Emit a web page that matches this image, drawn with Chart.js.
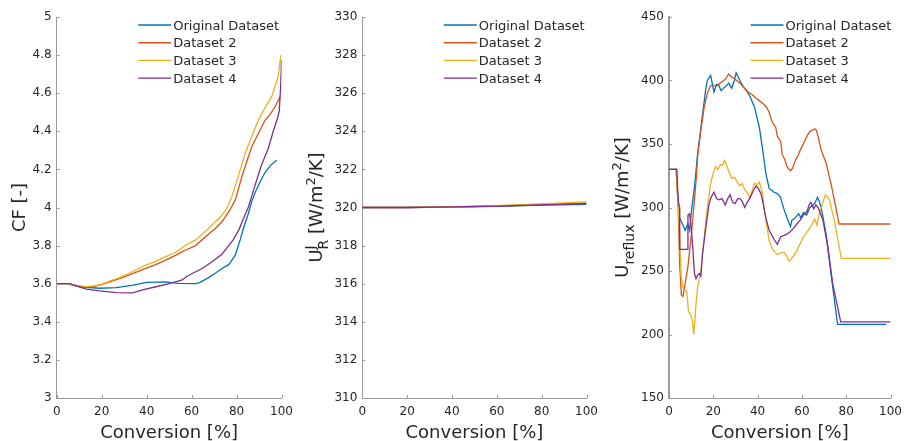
<!DOCTYPE html>
<html>
<head>
<meta charset="utf-8">
<script src="https://cdn.jsdelivr.net/npm/chart.js@4.4.1/dist/chart.umd.min.js"></script>
<style>
  body { margin: 0; background: #fff; }
  #wrap { position: relative; width: 909px; height: 441px; overflow: hidden; }
  .panel { position: absolute; top: 0; height: 441px; }
</style>
</head>
<body>
<div id="wrap">
  <div class="panel" style="left:0;width:300px"><canvas id="cf"></canvas></div>
  <div class="panel" style="left:300px;width:305px"><canvas id="ur"></canvas></div>
  <div class="panel" style="left:605px;width:304px"><canvas id="reflux"></canvas></div>
</div>
<script>
// series names and colours (MATLAB default order)
var names = ["Original Dataset", "Dataset 2", "Dataset 3", "Dataset 4"];
var colors = ["#0072BD", "#D95319", "#EDB120", "#7E2F8E"];

var xTicks = [0, 20, 40, 60, 80, 100];
var cfTicks = [3, 3.2, 3.4, 3.6, 3.8, 4, 4.2, 4.4, 4.6, 4.8, 5];
var urTicks = [310, 312, 314, 316, 318, 320, 322, 324, 326, 328, 330];
var refluxTicks = [150, 200, 250, 300, 350, 400, 450];

// ---- CF [-] ----
var cfOrigX = [0, 5, 10, 19, 26.5, 34, 40, 48.5, 54, 62, 63.5, 67.6, 70.5, 73.5, 76.5, 78, 79.4, 80.5, 81.6, 83.3, 85.3, 86.8, 88.3, 90.5, 92.7, 95, 97.8];
var cfOrigY = [3.6, 3.6, 3.584, 3.576, 3.579, 3.593, 3.607, 3.61, 3.602, 3.6, 3.606, 3.632, 3.655, 3.68, 3.7, 3.725, 3.75, 3.79, 3.83, 3.9, 3.97, 4.035, 4.08, 4.135, 4.185, 4.22, 4.248];
var cf2X = [0, 5, 8.8, 12, 16.2, 20, 23.5, 28, 32.3, 36, 39.6, 44, 48.5, 53, 57.4, 61.8, 66.2, 68.5, 70.6, 73.5, 75.5, 77.2, 79.4, 80.9, 82.3, 84.5, 86.8, 91, 92.7, 95, 97.1, 99.4];
var cf2Y = [3.6, 3.6, 3.588, 3.585, 3.585, 3.595, 3.61, 3.627, 3.646, 3.663, 3.68, 3.7, 3.724, 3.75, 3.777, 3.8, 3.847, 3.87, 3.89, 3.925, 3.96, 3.99, 4.04, 4.1, 4.16, 4.24, 4.32, 4.42, 4.459, 4.49, 4.529, 4.582];
var cf3X = [0, 5, 9, 13, 16.2, 20, 23.5, 28, 32.3, 36, 39.6, 44, 48.5, 53, 57.4, 61.8, 66.2, 70.6, 73.5, 75.7, 77.9, 80.9, 83.8, 86.8, 89.7, 92.5, 95.6, 98.5, 99.7];
var cf3Y = [3.6, 3.6, 3.59, 3.585, 3.588, 3.597, 3.614, 3.632, 3.655, 3.677, 3.698, 3.717, 3.742, 3.765, 3.803, 3.83, 3.875, 3.925, 3.96, 3.996, 4.057, 4.17, 4.284, 4.375, 4.459, 4.52, 4.582, 4.687, 4.8];
var cf4X = [0, 5.6, 8.8, 13.2, 19.1, 26.5, 33.8, 38.2, 44.1, 50, 55.9, 57.4, 60.5, 64.7, 69.1, 73.5, 76.5, 78.5, 80.9, 83, 85.3, 88.3, 91, 94.1, 96.3, 98.5, 99, 99.6, 100];
var cf4Y = [3.6, 3.6, 3.588, 3.572, 3.562, 3.553, 3.552, 3.567, 3.584, 3.6, 3.62, 3.635, 3.655, 3.68, 3.715, 3.755, 3.8, 3.83, 3.88, 3.94, 4.004, 4.12, 4.22, 4.31, 4.4, 4.48, 4.51, 4.634, 4.774];

// ---- U_R^J ----
var urX = [0, 20, 40, 60, 80, 100];
var urOrig = [320, 320, 320.02, 320.06, 320.12, 320.16];
var ur2 = [320, 320, 320.03, 320.08, 320.16, 320.24];
var ur3 = [320, 320.01, 320.04, 320.1, 320.19, 320.3];
var ur4 = [320, 320, 320.03, 320.07, 320.14, 320.2];

// ---- U_reflux ----
var rfOrigX = [0, 3.4, 4, 4.8, 6.3, 7.3, 8.5, 9.3, 10, 10.7, 11.5, 12.9, 14.4, 15.5, 16.5, 17.3, 18.8, 20.3, 21.5, 22.5, 23.5, 24.7, 26, 26.9, 28.3, 29.5, 30.3, 31.2, 32, 33.5, 35, 36.4, 38.6, 40.8, 42.3, 43.7, 45.2, 46.7, 47.4, 48.9, 50.4, 51.1, 52.6, 53.7, 54.8, 55.5, 56.3, 57.5, 58.5, 59.5, 60.7, 62.1, 63.6, 65.1, 66, 67, 67.8, 68.7, 70.9, 73.1, 76.1, 98.1];
var rfOrigY = [330, 330, 305, 292, 286, 282, 287, 282, 295, 305, 316, 342, 363, 378, 392, 400, 404, 391, 397, 396, 392, 394, 396, 398, 394, 400, 406, 403, 400, 395, 392, 388, 379, 363, 345, 327, 315, 313, 312, 311, 308, 303, 295, 290, 285, 290, 291, 293, 295, 292, 296, 294, 300, 302, 304, 308, 305, 300, 279, 248, 208, 208];
var rf2X = [0, 3.2, 4.1, 4.8, 5.6, 6.3, 7, 8.5, 10, 11.5, 12.2, 12.9, 14.4, 15.9, 17.3, 18.8, 20, 21.7, 23.9, 25.5, 26.9, 28, 29.1, 32, 35.7, 37.5, 39.3, 42.3, 44, 45.2, 46, 47, 48.2, 48.9, 50.4, 51.1, 52.2, 53.3, 54.8, 55.8, 57, 58, 59.2, 61.4, 62.5, 63.6, 65, 65.8, 66.5, 67.3, 68.7, 70.9, 73.1, 75.3, 76.8, 100];
var rf2Y = [330, 330, 303, 256, 231, 230, 237, 253, 277, 306, 321, 340, 361, 379, 390, 396, 396, 396, 399, 401, 405, 403, 402, 398, 391, 389, 386, 382, 379, 375, 370, 366, 363, 356, 352, 342, 338, 332, 329, 331, 337, 340, 345, 353, 357, 360, 361, 362, 361, 356, 345, 335, 319, 300, 287, 287];
var rf3X = [0, 3.2, 4.5, 5.5, 6.5, 8, 8.8, 10, 10.6, 11.2, 12.2, 12.9, 14.4, 15.9, 17.3, 18.8, 19.5, 21, 22, 23.2, 24.2, 25.1, 26, 26.9, 28.3, 29.5, 30.5, 32, 33, 34.2, 35.5, 36.4, 37.5, 38.6, 39.8, 40.8, 42.3, 43, 44, 45.2, 46.7, 48.9, 50.4, 51.9, 53, 54.1, 55, 56.3, 57.5, 58.5, 60.7, 62, 63.6, 64.8, 65.8, 66.8, 67.8, 68.7, 70.6, 72.4, 74.6, 76.8, 77.8, 100];
var rf3Y = [330, 330, 290, 245, 236, 234, 218, 215, 210, 200, 224, 237, 250, 277, 300, 319, 324, 332, 330, 334, 333, 337, 333, 329, 323, 324, 321, 317, 319, 314, 311, 308, 313, 319, 318, 320, 311, 298, 287, 274, 267, 263, 264, 265, 262, 258, 259, 262, 265, 269, 277, 280, 284, 288, 291, 286, 295, 300, 310, 306, 290, 269, 260, 260];
var rf4X = [0, 3.5, 4.2, 4.8, 4.85, 8.5, 8.55, 9.3, 10, 10.7, 11.5, 12.2, 13, 13.7, 14.4, 15.1, 16.6, 18.1, 19, 20.3, 21.5, 22.5, 23.9, 25.4, 26.5, 27.6, 28.7, 29.8, 31, 32, 33, 34.2, 35.3, 36.4, 38, 39.3, 40.3, 41.5, 42.5, 43.7, 45.2, 47.4, 48.9, 50.4, 51.9, 53.3, 54.8, 56.3, 57.7, 59.2, 60.7, 62.3, 63.2, 64, 65.3, 66.3, 67.3, 69.5, 71.7, 73.9, 77.5, 100];
var rf4Y = [330, 330, 305, 300, 267, 267, 294, 295, 285, 269, 248, 244, 247, 248, 246, 263, 284, 303, 308, 312, 307, 306, 307, 302, 307, 310, 304, 303, 307, 307, 305, 300, 304, 307, 313, 317, 315, 311, 303, 292, 282, 275, 271, 277, 278, 279, 281, 284, 287, 290, 294, 297, 302, 304, 299, 302, 300, 290, 269, 240, 210, 210];

function pts(xs, ys) {
  var out = [];
  for (var i = 0; i < xs.length; i++) out.push({x: xs[i], y: ys[i]});
  return out;
}

var font = "'DejaVu Sans', sans-serif";
var ink = "#262626";
var axisGray = "#9a9a9a";

// draws rotated text with sub/superscripts
function drawRich(ctx, parts, x, yc) {
  ctx.save();
  ctx.translate(x, yc);
  ctx.rotate(-Math.PI / 2);
  ctx.fillStyle = ink;
  ctx.textBaseline = "alphabetic";
  var total = 0, widths = [];
  parts.forEach(function(p) {
    ctx.font = p.s + "px " + font;
    var w = 0;
    if (p.t) w = ctx.measureText(p.t).width;
    if (p.sup) w = Math.max(w, ctx.measureText(p.sup).width);
    if (p.sub) w = Math.max(w, ctx.measureText(p.sub).width);
    widths.push(w);
    total += w;
  });
  var cx = -total / 2;
  parts.forEach(function(p, i) {
    ctx.font = p.s + "px " + font;
    if (p.t) ctx.fillText(p.t, cx, 0);
    if (p.sup) ctx.fillText(p.sup, cx, -7);
    if (p.sub) ctx.fillText(p.sub, cx, 6);
    cx += widths[i];
  });
  ctx.restore();
}

var decor = {
  id: "decor",
  afterDraw: function(chart, args, opts) {
    var ctx = chart.ctx, a = chart.chartArea;
    var xs = chart.scales.x, ys = chart.scales.y;
    ctx.save();
    // inward tick marks
    ctx.strokeStyle = axisGray;
    ctx.lineWidth = 1;
    ctx.beginPath();
    xs.ticks.forEach(function(t) {
      var px = Math.round(xs.getPixelForValue(t.value)) + 0.5;
      ctx.moveTo(px, a.bottom); ctx.lineTo(px, a.bottom - 3);
    });
    ys.ticks.forEach(function(t) {
      var py = Math.round(ys.getPixelForValue(t.value)) + 0.5;
      ctx.moveTo(a.left, py); ctx.lineTo(a.left + 3, py);
    });
    ctx.stroke();

    // legend
    ctx.font = "13px " + font;
    ctx.textBaseline = "alphabetic";
    chart.data.datasets.forEach(function(ds, i) {
      var ry = a.top + 8 + i * 17.7;
      ctx.strokeStyle = ds.borderColor;
      ctx.lineWidth = 1.4;
      ctx.beginPath();
      ctx.moveTo(a.left + 81.5, ry);
      ctx.lineTo(a.left + 114.5, ry);
      ctx.stroke();
      ctx.fillStyle = ink;
      ctx.fillText(ds.label, a.left + 116.5, ry + 4.7);
    });

    // x title
    ctx.font = "18px " + font;
    ctx.textAlign = "center";
    ctx.fillStyle = ink;
    ctx.fillText("Conversion [%]", (a.left + a.right) / 2, 438);
    ctx.restore();

    // y title
    drawRich(ctx, opts.title, opts.titleX, (a.top + a.bottom) / 2);
  }
};

function makePanel(id, series, yMin, yMax, yTicks, yWidth, rightPad, title, titleX) {
  var datasets = series.map(function(d, i) {
    return {
      label: names[i],
      data: d,
      borderColor: colors[i],
      borderWidth: 1.3,
      pointRadius: 0,
      tension: 0,
      fill: false,
      order: series.length - i   // later series on top, as in the original
    };
  });
  return new Chart(document.getElementById(id), {
    type: "line",
    data: {datasets: datasets},
    options: {
      responsive: true,
      maintainAspectRatio: false,
      animation: false,
      layout: {padding: {top: 17, right: rightPad, left: 0, bottom: 0}},
      plugins: {
        legend: {display: false},
        tooltip: {enabled: false},
        decor: {title: title, titleX: titleX}
      },
      scales: {
        x: {
          type: "linear",
          min: 0, max: 100,
          afterBuildTicks: function(s) { s.ticks = xTicks.map(function(v) { return {value: v}; }); },
          afterFit: function(s) { s.height = 43; },
          grid: {display: true, drawOnChartArea: false, drawTicks: false},
          border: {display: true, color: axisGray, width: 1},
          ticks: {padding: 7, color: ink, font: {family: font, size: 12}, maxRotation: 0,
                  callback: function(v) { return String(v); }}
        },
        y: {
          type: "linear",
          min: yMin, max: yMax,
          afterBuildTicks: function(s) { s.ticks = yTicks.map(function(v) { return {value: v}; }); },
          afterFit: function(s) { s.width = yWidth; },
          grid: {display: true, drawOnChartArea: false, drawTicks: false},
          border: {display: true, color: axisGray, width: id === "reflux" ? 2 : 1},
          ticks: {padding: 5, color: ink, font: {family: font, size: 12},
                  callback: function(v) { return String(+v.toFixed(1)); }}
        }
      }
    },
    plugins: [decor]
  });
}

makePanel("cf",
  [pts(cfOrigX, cfOrigY), pts(cf2X, cf2Y), pts(cf3X, cf3Y), pts(cf4X, cf4Y)],
  3, 5, cfTicks, 56.7, 16.7,
  [{t: "CF [-]", s: 18}], 25);

makePanel("ur",
  [pts(urX, urOrig), pts(urX, ur2), pts(urX, ur3), pts(urX, ur4)],
  310, 330, urTicks, 62.3, 15.3,
  [{t: "U", s: 18}, {sup: "J", sub: "R", s: 14}, {t: " [W/m", s: 18}, {sup: "2", s: 13}, {t: "/K]", s: 18}], 22);

makePanel("reflux",
  [pts(rfOrigX, rfOrigY), pts(rf2X, rf2Y), pts(rf3X, rf3Y), pts(rf4X, rf4Y)],
  150, 450, refluxTicks, 64, 13,
  [{t: "U", s: 18}, {sub: "reflux", s: 14}, {t: " [W/m", s: 18}, {sup: "2", s: 13}, {t: "/K]", s: 18}], 23);
</script>
</body>
</html>
